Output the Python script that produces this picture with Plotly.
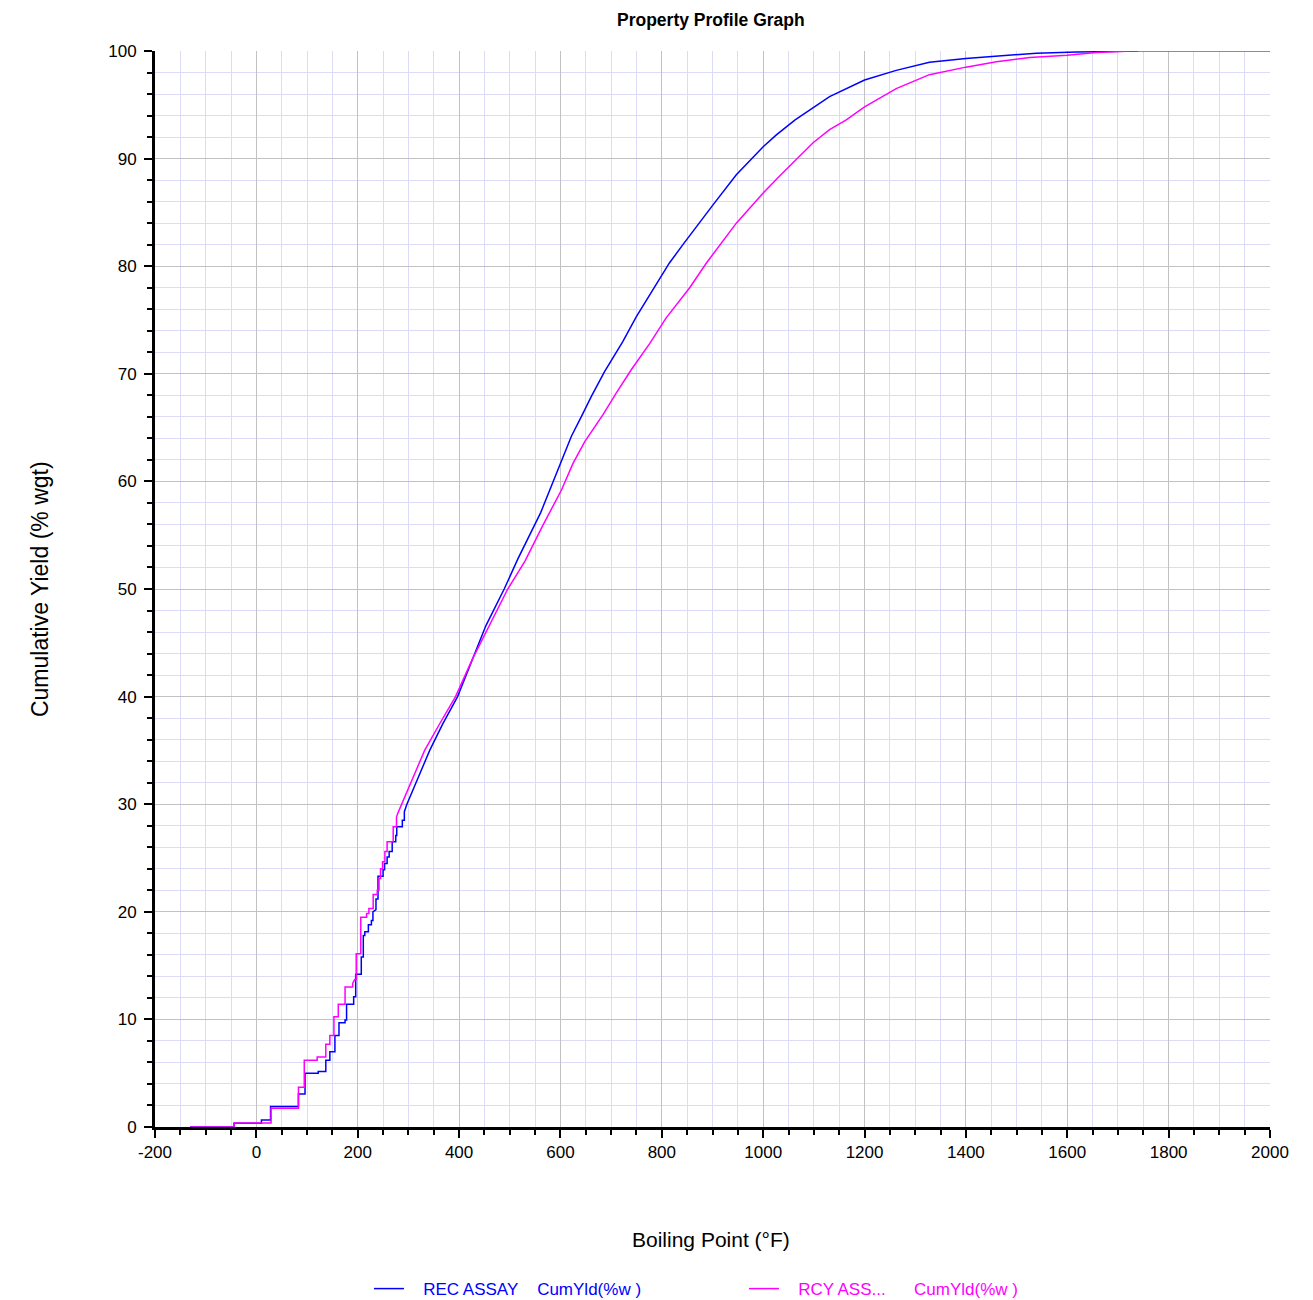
import plotly.graph_objects as go

# ---- data ----
rec_bp = [-131, -44, -44, 10, 10, 28, 28, 83, 83, 96, 96, 122, 122, 137, 137, 145, 145, 155, 155,
          163, 163, 175, 175, 178, 178, 192, 192, 196, 196, 207, 207, 211, 211, 214, 214, 221, 221,
          227, 227, 230, 230, 236, 236, 240, 240, 250, 250, 253, 253, 258, 258, 262, 262, 268, 268,
          275, 275, 277, 277, 288, 288, 292, 292, 297, 342, 367, 397, 426, 453, 489, 516, 561, 579,
          600, 621.6, 641, 661, 687, 723, 749.5, 782, 800, 815, 841.6, 881, 901, 947, 1000, 1026,
          1063, 1131, 1151, 1200, 1262.5, 1328, 1400, 1473, 1539, 1618, 1657, 1740]
rec_yld = [0, 0, 0.35, 0.35, 0.65, 0.65, 1.9, 1.9, 3.07, 3.07, 5.0, 5.0, 5.15, 5.15, 6.2, 6.2, 7.0, 7.0, 8.5,
           8.5, 9.7, 9.7, 9.95, 9.95, 11.4, 11.4, 12.1, 12.1, 14.2, 14.2, 15.8, 15.8, 17.8, 17.8, 18.15, 18.15, 18.8,
           18.8, 19.2, 19.2, 20.0, 20.2, 21.2, 21.2, 23.3, 23.3, 23.9, 23.9, 24.5, 24.5, 25.1, 25.1, 25.6, 25.6, 26.5,
           26.5, 27.1, 27.1, 27.9, 27.9, 28.5, 28.5, 29.3, 30.0, 35.0, 37.4, 40.0, 43.5, 46.6, 50.0, 52.8, 57.1, 59.2,
           61.5, 64.2, 66.0, 67.9, 70.2, 73.0, 75.3, 77.8, 79.1, 80.3, 82.0, 84.5, 85.7, 88.5, 91.1, 92.2,
           93.6, 95.76, 96.2, 97.3, 98.2, 98.95, 99.3, 99.57, 99.8, 99.9, 99.95, 100]

rcy_bp = [-131, -44, -44, 29, 29, 83, 83, 94.5, 94.5, 120, 120, 137, 137, 145, 145, 153, 153, 161.6, 161.6,
          175, 175, 190, 190, 194, 197, 197, 206, 206, 217.5, 217.5, 222, 222, 230.5, 230.5, 238.5, 238.5,
          242, 242, 245, 245, 249, 249, 253.6, 253.6, 258, 258, 270, 270, 276.5, 276.5, 279, 300, 332,
          362, 393, 426.5, 459.6, 496, 530, 564, 602, 625, 648, 684, 710, 740, 776, 808.6, 855, 888,
          947, 1000, 1033, 1072.6, 1099, 1131, 1164, 1200, 1262.5, 1328, 1400, 1460, 1526, 1600, 1657,
          1728, 2000]
rcy_yld = [0, 0, 0.37, 0.37, 1.74, 1.74, 3.7, 3.7, 6.2, 6.2, 6.5, 6.5, 7.7, 7.7, 8.5, 8.5, 10.25, 10.25, 11.4,
           11.4, 13.0, 13.0, 13.35, 13.7, 13.7, 16.1, 16.1, 19.5, 19.5, 19.85, 19.85, 20.3, 20.3, 21.6, 21.6, 22.0,
           22.0, 23.1, 23.1, 24.0, 24.0, 24.65, 24.65, 25.6, 25.6, 26.5, 26.5, 27.9, 27.9, 28.8, 29.15, 31.5, 35.0,
           37.5, 40.0, 43.5, 46.6, 50.0, 52.6, 55.8, 59.2, 61.7, 63.7, 66.2, 68.2, 70.4, 72.8, 75.2, 78.0, 80.3,
           84.0, 86.8, 88.4, 90.3, 91.5, 92.7, 93.6, 94.8, 96.5, 97.8, 98.5, 99.0, 99.4, 99.6, 99.85,
           100, 100]

series_names = ["REC ASSAY\u00a0\u00a0\u00a0\u00a0CumYld(%w )",
                "RCY ASS...\u00a0\u00a0\u00a0\u00a0\u00a0\u00a0CumYld(%w )"]
series_colors = ["#0000FF", "#FF00FF"]

x_ticks = [-200, 0, 200, 400, 600, 800, 1000, 1200, 1400, 1600, 1800, 2000]
y_ticks = [0, 10, 20, 30, 40, 50, 60, 70, 80, 90, 100]

FONT = "Liberation Sans, Arial, sans-serif"
PAD = "\u00a0\u00a0\u00a0"

fig = go.Figure()
for bp, yld, name, col in [(rec_bp, rec_yld, series_names[0], series_colors[0]),
                           (rcy_bp, rcy_yld, series_names[1], series_colors[1])]:
    fig.add_trace(go.Scatter(
        x=bp, y=yld, mode="lines",
        line=dict(color=col, width=1.5),
        name=f"<span style='color:{col}'>{PAD}{name}</span>",
    ))

axis_common = dict(
    showline=True, linewidth=3, linecolor="black",
    ticks="outside", ticklen=8, tickwidth=1.5, tickcolor="black",
    showgrid=True, gridcolor="#c2c2c2", gridwidth=1,
    zeroline=False, automargin=False,
    tickfont=dict(family=FONT, size=17, color="black"),
)

fig.update_layout(
    width=1297, height=1320,
    margin=dict(l=147, r=35, t=43, b=201),
    paper_bgcolor="white", plot_bgcolor="white",
    xaxis=dict(range=[-200, 2000], tickvals=x_ticks, ticktext=[str(v) for v in x_ticks],
               minor=dict(dtick=50, tick0=-200, ticks="outside", ticklen=5, tickwidth=1.5,
                          tickcolor="black", showgrid=True, gridcolor="#dcdcf8", gridwidth=1),
               **axis_common),
    yaxis=dict(range=[0, 100], tickvals=y_ticks, ticktext=[str(v) for v in y_ticks],
               ticklabelstandoff=4,
               minor=dict(dtick=2, tick0=0, ticks="outside", ticklen=5, tickwidth=1.5,
                          tickcolor="black", showgrid=True, gridcolor="#dcdcf8", gridwidth=1),
               **axis_common),
    legend=dict(orientation="h", x=0.1919, xanchor="left", y=-0.1506, yanchor="middle",
                entrywidth=330, entrywidthmode="pixels",
                font=dict(family=FONT, size=17), bgcolor="rgba(0,0,0,0)"),
    showlegend=True,
    annotations=[
        dict(text="<b>Property Profile Graph</b>", xref="paper", yref="paper",
             x=0.4987, y=1.0290, xanchor="center", yanchor="middle", showarrow=False,
             font=dict(family=FONT, size=17.5, color="black")),
        dict(text="Boiling Point (°F)", xref="paper", yref="paper",
             x=0.4987, y=-0.1041, xanchor="center", yanchor="middle", showarrow=False,
             font=dict(family=FONT, size=21, color="black")),
        dict(text="Cumulative Yield (% wgt)", xref="paper", yref="paper",
             x=-0.1031, y=0.5, xanchor="center", yanchor="middle", showarrow=False,
             textangle=-90, font=dict(family=FONT, size=23, color="black")),
    ],
)

fig.write_html("out.html")
